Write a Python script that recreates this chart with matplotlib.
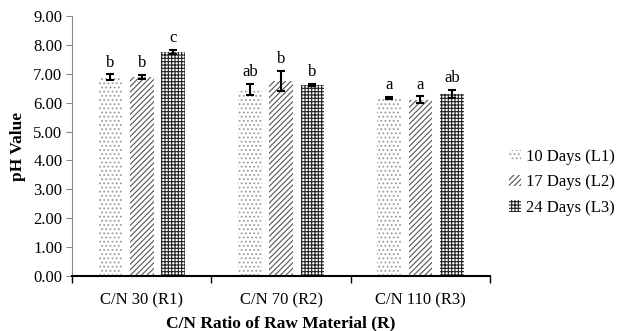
import numpy as np
import matplotlib.pyplot as plt

categories = ['C/N 30 (R1)', 'C/N 70 (R2)', 'C/N 110 (R3)']
series = ['10 Days (L1)', '17 Days (L2)', '24 Days (L3)']
ph_l1 = [6.88, 6.45, 6.17]
ph_l2 = [6.90, 6.75, 6.10]
ph_l3 = [7.75, 6.62, 6.30]
err_l1 = [0.10, 0.20, 0.03]
err_l2 = [0.07, 0.35, 0.12]
err_l3 = [0.08, 0.03, 0.15]
letters_l1 = ['b', 'ab', 'a']
letters_l2 = ['b', 'b', 'a']
letters_l3 = ['c', 'b', 'ab']

plt.rcParams['font.family'] = ['Liberation Serif', 'DejaVu Serif']
plt.rcParams['hatch.linewidth'] = 0.8

fig = plt.figure(figsize=(6.22, 3.31), dpi=100)
ax = fig.add_axes((0.116, 0.166, 0.672, 0.786))

x = np.arange(len(categories))
w = 0.17
gap = 0.055
styles = [('....', '#9a9a9a'), ('//////', '#555555'), ('+++++', '#222222')]
vals = [ph_l1, ph_l2, ph_l3]
errs = [err_l1, err_l2, err_l3]
letters = [letters_l1, letters_l2, letters_l3]

for i in range(3):
    pos = x + (i - 1) * (w + gap)
    hatch, col = styles[i]
    ax.bar(pos, vals[i], w, color='white', edgecolor=col, hatch=hatch,
           linewidth=0, label=series[i])
    ax.errorbar(pos, vals[i], yerr=errs[i], fmt='none', ecolor='black',
                elinewidth=1.5, capsize=3, capthick=1.5)
    for p, v, e, t in zip(pos, vals[i], errs[i], letters[i]):
        ax.text(p, v + e + 0.12, t, ha='center', va='bottom', fontsize=12)

ax.set_xlim(-0.5, 2.5)
ax.set_ylim(0, 9)
ax.set_yticks(np.arange(0, 9.01, 1))
ax.set_yticklabels(['%.2f' % v for v in np.arange(0, 9.01, 1)], fontsize=12)
ax.set_xticks(x)
ax.set_xticklabels(categories, fontsize=12)
ax.set_xticks([-0.5, 0.5, 1.5, 2.5], minor=True)
ax.tick_params(axis='x', which='major', length=0, pad=12)
ax.tick_params(axis='x', which='minor', length=5, width=1, direction='out')
ax.tick_params(axis='y', length=4, color='#888888', direction='out', pad=3)
ax.spines['top'].set_visible(False)
ax.spines['right'].set_visible(False)
ax.spines['left'].set_color('#888888')
ax.spines['bottom'].set_linewidth(1.5)
ax.set_xlabel('C/N Ratio of Raw Material (R)', fontsize=12.5,
              fontweight='bold', labelpad=5)
ax.set_ylabel('pH Value', fontsize=12.5, fontweight='bold', labelpad=5)

leg = ax.legend(loc='center left', bbox_to_anchor=(1.01, 0.36), frameon=False,
                fontsize=12, handlelength=0.7, handleheight=0.7,
                handletextpad=0.3, labelspacing=0.55)

fig.savefig('out.png', dpi=100)
